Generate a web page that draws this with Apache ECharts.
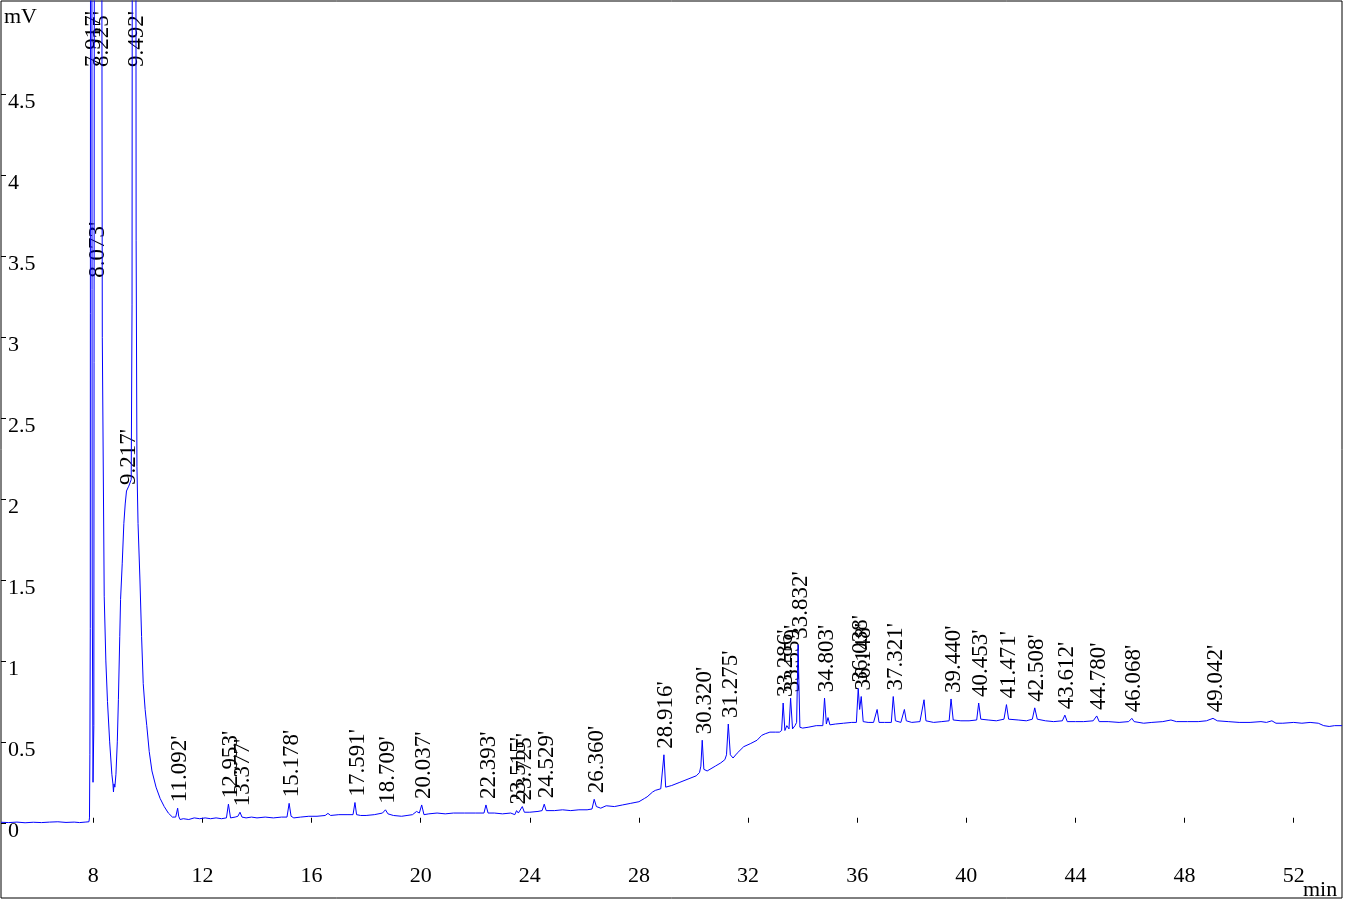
<!DOCTYPE html>
<html>
<head>
<meta charset="utf-8">
<script src="https://cdn.jsdelivr.net/npm/echarts@6/dist/echarts.min.js"></script>
<style>
html,body{margin:0;padding:0;background:#fff;}
#chart{width:1345px;height:900px;}
</style>
</head>
<body>
<div id="chart"></div>
<script>
// ---------- data ----------
const xTicks = [8, 12, 16, 20, 24, 28, 32, 36, 40, 44, 48, 52];
const yTicks = [0, 0.5, 1, 1.5, 2, 2.5, 3, 3.5, 4, 4.5];
const xUnit = "min";
const yUnit = "mV";

// chromatogram trace [time (min), signal (mV)]
const trace = [
  [4.62,0.003],[4.9,0.001],[5.2,0.004],[5.5,0.0],[5.8,0.003],[6.1,0.001],[6.4,0.004],[6.7,0.006],
  [7.0,0.002],[7.3,0.004],[7.5,0.001],[7.7,0.004],[7.84,0.006],
  [7.86,0.03],[7.875,0.42],[7.89,1.2],[7.917,16],[7.96,1.5],[7.99,0.25],[8.02,0.6],
  [8.073,15],[8.15,9],[8.225,18],[8.33,3.0],[8.40,1.4],[8.46,1.0],[8.52,0.75],[8.6,0.5],
  [8.68,0.3],[8.72,0.24],[8.74,0.19],[8.76,0.24],[8.79,0.22],[8.83,0.3],[8.88,0.5],[8.92,0.76],
  [8.97,1.15],[9.0,1.38],[9.06,1.6],[9.12,1.85],[9.17,1.97],[9.217,2.05],[9.3,2.08],[9.39,2.12],
  [9.42,3.2],[9.492,22],[9.57,3.6],[9.6,2.2],[9.64,1.85],[9.71,1.5],[9.77,1.15],[9.83,0.86],
  [9.9,0.7],[9.96,0.6],[10.05,0.44],[10.15,0.32],[10.3,0.22],[10.45,0.15],[10.6,0.1],[10.75,0.06],
  [10.9,0.035],[11.02,0.035],[11.06,0.045],[11.092,0.09],[11.13,0.04],[11.18,0.02],
  [11.3,0.025],[11.5,0.02],[11.7,0.03],[11.9,0.025],[12.1,0.03],[12.3,0.025],[12.5,0.03],[12.7,0.025],
  [12.88,0.03],[12.953,0.115],[13.03,0.03],[13.1,0.02],[13.2,0.035],[13.3,0.04],[13.377,0.065],[13.45,0.035],
  [13.6,0.03],[13.8,0.035],[14.0,0.03],[14.3,0.035],[14.6,0.03],[14.9,0.035],[15.1,0.035],[15.178,0.12],
  [15.25,0.04],[15.35,0.03],[15.6,0.035],[15.9,0.04],[16.2,0.04],[16.5,0.045],[16.6,0.058],[16.7,0.045],
  [17.0,0.05],[17.3,0.05],[17.52,0.05],[17.591,0.125],[17.65,0.05],[17.8,0.045],[18.0,0.045],[18.3,0.05],
  [18.6,0.06],[18.709,0.08],[18.8,0.055],[19.0,0.045],[19.3,0.04],[19.5,0.045],[19.7,0.05],[19.85,0.07],
  [19.95,0.06],[20.037,0.11],[20.12,0.05],[20.3,0.055],[20.6,0.06],[20.9,0.055],[21.2,0.06],[21.6,0.06],
  [22.0,0.06],[22.32,0.06],[22.393,0.11],[22.47,0.06],[22.7,0.06],[23.0,0.055],[23.3,0.06],[23.45,0.05],
  [23.515,0.075],[23.58,0.06],[23.65,0.07],[23.725,0.1],[23.8,0.065],[24.0,0.065],[24.3,0.07],[24.45,0.075],
  [24.529,0.115],[24.6,0.075],[24.9,0.075],[25.2,0.08],[25.5,0.075],[25.8,0.08],[26.1,0.08],[26.28,0.085],
  [26.36,0.145],[26.44,0.1],[26.6,0.09],[26.8,0.105],[27.1,0.1],[27.4,0.11],[27.7,0.12],[28.0,0.13],
  [28.2,0.15],[28.3,0.16],[28.5,0.19],[28.6,0.2],[28.8,0.21],[28.87,0.22],[28.916,0.42],[28.98,0.22],
  [29.2,0.23],[29.5,0.25],[29.8,0.27],[30.1,0.29],[30.22,0.31],[30.27,0.35],[30.32,0.51],[30.38,0.33],
  [30.5,0.32],[30.8,0.35],[31.0,0.37],[31.15,0.39],[31.21,0.42],[31.275,0.61],[31.35,0.42],[31.45,0.40],
  [31.6,0.43],[31.84,0.47],[32.1,0.49],[32.33,0.51],[32.5,0.54],[32.63,0.55],[32.8,0.56],[33.0,0.56],
  [33.15,0.56],[33.23,0.57],[33.286,0.74],[33.35,0.57],[33.42,0.6],[33.5,0.58],[33.559,0.77],[33.63,0.58],
  [33.72,0.6],[33.78,0.62],[33.832,1.1],[33.9,0.59],[34.0,0.585],[34.2,0.59],[34.5,0.6],[34.74,0.6],
  [34.803,0.77],[34.87,0.61],[34.93,0.65],[35.0,0.605],[35.2,0.61],[35.5,0.615],[35.8,0.62],[35.97,0.62],
  [36.038,0.83],[36.09,0.7],[36.148,0.78],[36.22,0.625],[36.4,0.62],[36.6,0.62],[36.73,0.7],[36.8,0.62],
  [37.0,0.62],[37.25,0.62],[37.321,0.78],[37.4,0.63],[37.6,0.62],[37.73,0.7],[37.8,0.63],[38.0,0.62],
  [38.3,0.625],[38.45,0.76],[38.52,0.63],[38.8,0.62],[39.1,0.625],[39.37,0.63],[39.44,0.765],[39.52,0.635],
  [39.8,0.63],[40.1,0.63],[40.38,0.635],[40.453,0.74],[40.53,0.64],[40.8,0.635],[41.1,0.63],[41.38,0.64],
  [41.471,0.73],[41.55,0.64],[41.9,0.635],[42.2,0.63],[42.42,0.64],[42.508,0.71],[42.6,0.64],[42.9,0.63],
  [43.2,0.625],[43.52,0.63],[43.612,0.665],[43.7,0.625],[44.0,0.625],[44.3,0.625],[44.65,0.63],[44.78,0.66],
  [44.87,0.625],[45.2,0.625],[45.6,0.62],[45.95,0.625],[46.068,0.645],[46.15,0.625],[46.5,0.615],[46.8,0.62],
  [47.2,0.625],[47.5,0.635],[47.7,0.625],[48.1,0.625],[48.5,0.625],[48.8,0.63],[49.042,0.645],[49.2,0.63],
  [49.6,0.625],[50.0,0.62],[50.4,0.62],[50.8,0.625],[51.0,0.62],[51.2,0.63],[51.35,0.615],[51.6,0.615],
  [52.0,0.62],[52.3,0.615],[52.6,0.62],[52.9,0.615],[53.1,0.60],[53.3,0.595],[53.5,0.6],[53.77,0.6]
];

// labelled peaks: retention time (min) and apex height (mV)
const peakTimes = [7.917, 8.073, 8.225, 9.217, 9.492, 11.092, 12.953, 13.377, 15.178, 17.591, 18.709,
  20.037, 22.393, 23.515, 23.725, 24.529, 26.360, 28.916, 30.320, 31.275, 33.286, 33.559, 33.832,
  34.803, 36.038, 36.148, 37.321, 39.440, 40.453, 41.471, 42.508, 43.612, 44.780, 46.068, 49.042];
const peakHeights = [16, 15, 18, 2.05, 22, 0.09, 0.115, 0.065, 0.12, 0.125, 0.08,
  0.11, 0.11, 0.075, 0.1, 0.115, 0.145, 0.42, 0.51, 0.61, 0.74, 0.77, 1.1,
  0.77, 0.83, 0.78, 0.78, 0.765, 0.74, 0.73, 0.71, 0.665, 0.66, 0.645, 0.645];

// ---------- rendering ----------
const X_MIN = 4.617, X_MAX = 53.77;
const Y_MIN = -0.465, Y_MAX = 5.078;
const FONT_FAMILY = '"Liberation Serif", "Times New Roman", serif';
const AXIS_FONT_SIZE = 22;
const PEAK_FONT = '23px ' + FONT_FAMILY;
const AXIS_FONT = AXIS_FONT_SIZE + 'px ' + FONT_FAMILY;
// manual placement used by the original software to avoid label collision
const LABEL_ANCHOR_OVERRIDE = { '8.073': 3.33 };

const measureCtx = document.createElement('canvas').getContext('2d');
measureCtx.font = PEAK_FONT;

const chart = echarts.init(document.getElementById('chart'), null, { renderer: 'canvas' });

const option = {
  animation: false,
  backgroundColor: '#ffffff',
  grid: { left: 1, right: 3, top: 1, bottom: 2, show: true, borderColor: '#000', borderWidth: 1, backgroundColor: 'transparent' },
  xAxis: {
    type: 'value', min: X_MIN, max: X_MAX,
    axisLine: { show: false },
    splitLine: { show: false },
    axisTick: { show: true, inside: true, length: 5, lineStyle: { color: '#000' }, customValues: xTicks },
    axisLabel: { show: true, inside: true, margin: 11, color: '#000', fontFamily: FONT_FAMILY, fontSize: AXIS_FONT_SIZE, customValues: xTicks }
  },
  yAxis: {
    type: 'value', min: Y_MIN, max: Y_MAX,
    axisLine: { show: false },
    splitLine: { show: false },
    axisTick: { show: true, inside: true, length: 5, lineStyle: { color: '#000' }, customValues: yTicks },
    axisLabel: { show: true, inside: true, margin: 7, color: '#000', fontFamily: FONT_FAMILY, fontSize: AXIS_FONT_SIZE,
      align: 'left', verticalAlign: 'top', lineHeight: 16, customValues: yTicks }
  },
  graphic: [
    { type: 'text', left: 4, top: 6, z: 100, style: { text: yUnit, font: AXIS_FONT, fill: '#000' } },
    { type: 'text', x: 1303, y: 890, z: 100, style: { text: xUnit, font: AXIS_FONT, fill: '#000', verticalAlign: 'middle' } }
  ],
  series: [
    {
      type: 'custom',
      z: 1,
      coordinateSystem: 'cartesian2d',
      encode: { x: 0, y: 1 },
      clip: false,
      data: peakTimes.map((t, i) => [t, peakHeights[i]]),
      renderItem: function (params, api) {
        const t = api.value(0);
        const key = t.toFixed(3);
        const h = LABEL_ANCHOR_OVERRIDE[key] !== undefined ? LABEL_ANCHOR_OVERRIDE[key] : api.value(1);
        const text = key + "'";
        const p = api.coord([t, Math.min(h, Y_MAX)]);
        const topPx = api.coord([t, Y_MAX])[1];
        const len = measureCtx.measureText(text).width;
        let y = p[1] - 6;
        let align = 'left';
        if (y - len < topPx + 10) { y = topPx + 10; align = 'right'; }
        return {
          type: 'text',
          x: p[0] + 2.5,
          y: y,
          rotation: Math.PI / 2,
          style: { text: text, font: PEAK_FONT, fill: '#000', align: align, verticalAlign: 'middle' }
        };
      }
    },
    {
      type: 'line',
      z: 2,
      data: trace,
      showSymbol: false,
      symbol: 'none',
      clip: true,
      sampling: null,
      lineStyle: { color: '#0000ff', width: 1 }
    }
  ]
};
chart.setOption(option);
</script>
</body>
</html>
